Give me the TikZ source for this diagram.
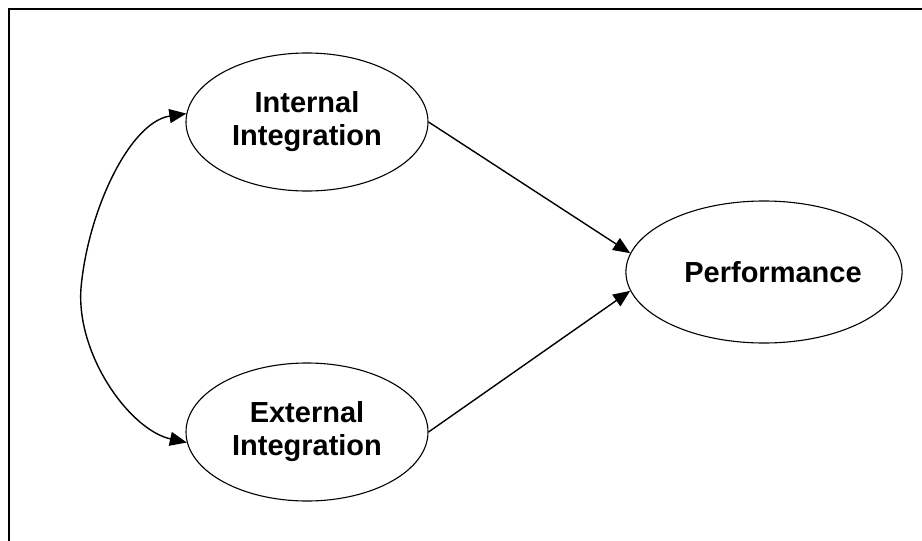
\documentclass[tikz,border=0pt]{standalone}
\usepackage{fontspec}
\setmainfont{Liberation Sans}
\usetikzlibrary{shapes.geometric,arrows.meta}
\begin{document}
\begin{tikzpicture}[x=1pt,y=-1pt,
  construct/.style={draw,ellipse,line width=1.1pt,minimum width=242pt,minimum height=138pt,inner sep=0pt,
    font=\fontsize{29}{33}\selectfont\bfseries,align=center},
  link/.style={line width=1.4pt,-{Triangle[length=17pt,width=14pt]}},
  frame/.style={line width=2.2pt}]
\useasboundingbox (0,0) rectangle (922,541);
\draw[frame] (9,541) -- (9,9) -- (922,9);
\node[construct] (int) at (307,122) {\raisebox{-2pt}{\begin{tabular}{@{}c@{}}Internal\\Integration\end{tabular}}};
\node[construct] (ext) at (307,432) {\raisebox{-2pt}{\begin{tabular}{@{}c@{}}External\\Integration\end{tabular}}};
\node[construct,minimum height=142pt] (perf) at (764,272) {\hspace*{18pt}Performance};
\coordinate (mid) at (81,288);
\draw[line width=1.4pt,{Triangle[length=17pt,width=14pt]}-{Triangle[length=17pt,width=14pt]}]
  (int.176) .. controls (130,122) and (88,210) .. (mid)
  .. controls (76,355) and (130,430) .. (ext.185);
\draw[link] (int.east) -- (perf.172);
\draw[link] (ext.east) -- (perf.188);
\end{tikzpicture}
\end{document}
